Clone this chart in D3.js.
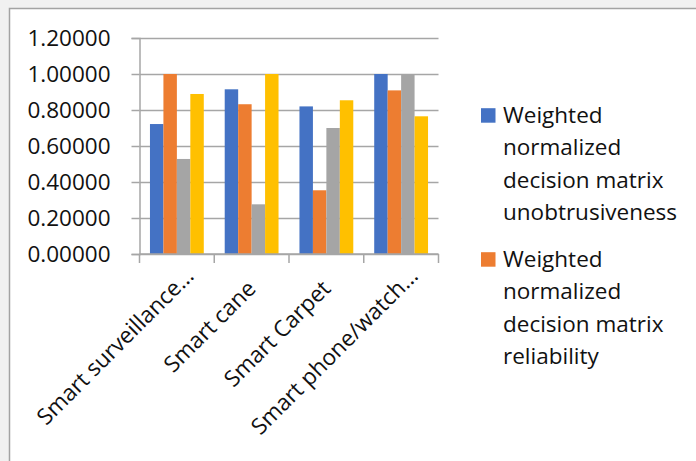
<!DOCTYPE html>
<html>
<head>
<meta charset="utf-8">
<script src="https://cdn.jsdelivr.net/npm/d3@7/dist/d3.min.js"></script>
<style>
  html, body { margin: 0; padding: 0; background: #ffffff; }
  svg { display: block; }
  text { font-family: "Open Sans", "Noto Sans", sans-serif; fill: #111; }
</style>
</head>
<body>
<svg id="chart" width="696" height="461"></svg>
<script>
// Alternatives on the category axis
const categories = ["Smart surveillance…", "Smart cane", "Smart Carpet", "Smart phone/watch…"];

// Series names (only the first two appear in the legend)
const seriesNames = [
  "Weighted normalized decision matrix unobtrusiveness",
  "Weighted normalized decision matrix reliability",
  "Series 3",
  "Series 4"
];

// One value per category for each series
const unobtrusiveness = [0.722, 0.915, 0.820, 1.000];
const reliability     = [1.000, 0.832, 0.354, 0.909];
const series3         = [0.528, 0.276, 0.700, 1.000];
const series4         = [0.889, 1.000, 0.854, 0.765];

const yTicks = [0, 0.2, 0.4, 0.6, 0.8, 1.0, 1.2];

const colors = ["#4472C4", "#ED7D31", "#A5A5A5", "#FFC000"];
const seriesValues = [unobtrusiveness, reliability, series3, series4];

const legendLines = [
  ["Weighted", "normalized", "decision matrix", "unobtrusiveness"],
  ["Weighted", "normalized", "decision matrix", "reliability"]
];

const svg = d3.select("#chart");
const W = 696, H = 461;

// faint backdrop outside the chart frame
svg.append("rect").attr("x", 0).attr("y", 0).attr("width", W).attr("height", H).attr("fill", "#f1f1f1");
svg.append("rect").attr("x", 9.5).attr("y", 8.5).attr("width", W).attr("height", H)
  .attr("fill", "#ffffff").attr("stroke", "#a3a3a3").attr("stroke-width", 1.5);

const plot = { left: 139.5, right: 438.5, top: 38, bottom: 254 };

const x0 = d3.scaleBand()
  .domain(categories)
  .range([plot.left, plot.right])
  .paddingInner(0.28)
  .paddingOuter(0.14);

const x1 = d3.scaleBand()
  .domain(d3.range(seriesValues.length))
  .range([0, x0.bandwidth()])
  .padding(0);

const y = d3.scaleLinear().domain([0, 1.2]).range([plot.bottom, plot.top]);

const fontSize = 22.5;

// horizontal gridlines
svg.append("g")
  .attr("transform", `translate(${plot.left},0)`)
  .call(d3.axisLeft(y).tickValues(yTicks).tickSize(-(plot.right - plot.left)).tickFormat(""))
  .call(g => g.select(".domain").remove())
  .call(g => g.selectAll("line").attr("stroke", "#a6a6a6").attr("stroke-width", 1.5));

// bars
const groups = svg.append("g").selectAll("g")
  .data(categories)
  .join("g")
  .attr("transform", d => `translate(${x0(d)},0)`);

groups.selectAll("rect")
  .data((c, ci) => seriesValues.map((vals, si) => ({ si, v: vals[ci] })))
  .join("rect")
  .attr("x", d => x1(d.si))
  .attr("width", x1.bandwidth())
  .attr("y", d => y(d.v))
  .attr("height", d => y(0) - y(d.v))
  .attr("fill", d => colors[d.si]);

// value axis
svg.append("g")
  .attr("transform", `translate(${plot.left},0)`)
  .call(d3.axisLeft(y).tickValues(yTicks).tickSize(8).tickPadding(21).tickFormat(d3.format(".5f")))
  .call(g => g.select(".domain").attr("stroke", "#a6a6a6").attr("stroke-width", 1.5))
  .call(g => g.selectAll("line").attr("stroke", "#a6a6a6").attr("stroke-width", 1.5))
  .call(g => g.selectAll("text").attr("font-size", fontSize).attr("fill", "#111")
    .style("font-family", '"Open Sans", sans-serif'));

// category axis: baseline and boundary ticks
const xAxis = svg.append("g");
xAxis.append("line")
  .attr("x1", plot.left).attr("x2", plot.right)
  .attr("y1", y(0)).attr("y2", y(0))
  .attr("stroke", "#a6a6a6").attr("stroke-width", 1.5);
const bounds = d3.range(categories.length + 1).map(i => x0.range()[0] + i * x0.step());
xAxis.selectAll("line.tick")
  .data(bounds)
  .join("line")
  .attr("class", "tick")
  .attr("x1", d => d).attr("x2", d => d)
  .attr("y1", y(0)).attr("y2", y(0) + 9)
  .attr("stroke", "#a6a6a6").attr("stroke-width", 1.5);

// rotated category labels
xAxis.selectAll("text")
  .data(categories)
  .join("text")
  .attr("transform", d => `translate(${x0(d) + x0.bandwidth() / 2 + 5.5},290) rotate(-45)`)
  .attr("text-anchor", "end")
  .attr("dx", d => d.endsWith("…") ? "0.8em" : 0)
  .attr("font-size", fontSize)
  .text(d => d);

// legend
const legend = svg.append("g");
legendLines.forEach((lines, i) => {
  const base = 122.7 + i * 144;
  legend.append("rect")
    .attr("x", 481).attr("y", base - 14.5)
    .attr("width", 14.5).attr("height", 14.5)
    .attr("fill", colors[i]);
  const t = legend.append("text")
    .attr("x", 503).attr("y", base)
    .attr("font-size", fontSize);
  t.selectAll("tspan")
    .data(lines)
    .join("tspan")
    .attr("x", 503)
    .attr("dy", (d, j) => j === 0 ? 0 : 32.5)
    .text(d => d);
});
</script>
</body>
</html>
